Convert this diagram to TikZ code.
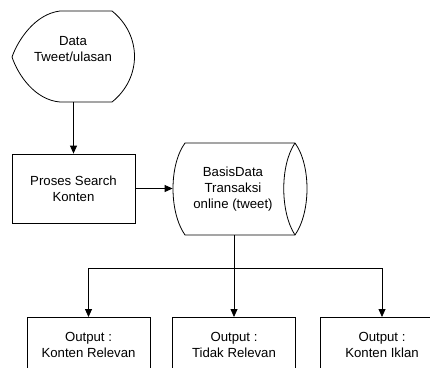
\documentclass[tikz,border=0pt]{standalone}
\usepackage{fontspec}
\setmainfont{Liberation Sans}
\usetikzlibrary{arrows.meta,calc}
\begin{document}
\begin{tikzpicture}[x=1pt,y=-1pt,
  line width=0.8pt,
  txt/.style={align=center,inner sep=0pt,font=\fontsize{13.2}{16}\selectfont},
  frame/.style={draw=none,inner sep=0pt,minimum width=#1},
  procbox/.style={draw,inner sep=0pt,minimum width=123pt,minimum height=69pt,align=center,font=\fontsize{13.2}{16}\selectfont},
  outbox/.style={draw,inner sep=0pt,minimum width=123pt,minimum height=58pt},
  arr/.style={-{Triangle[width=7pt,length=8pt]}}]
\useasboundingbox (0,0) rectangle (430,367);
\clip (0,0) rectangle (430,367);
% anchor frames
\node[frame=123pt,minimum height=91pt] (data) at (73.5,56.5) {};
\node[procbox] (proses) at (73.5,188.5) {Proses Search\\Konten};
\node[frame=134pt,minimum height=92pt] (cyl) at (240,189) {};
\node[outbox,anchor=north] (out1) at (88.5,317) {};
\node[outbox,anchor=north] (out2) at (234,317) {};
\node[outbox,anchor=north] (out3) at (382,317) {};
% display shape
\draw (60,11) -- (112,11) .. controls (142,35) and (142,78) .. (112,102) -- (60,102)
  .. controls (35,100) and (18,75) .. (12,57) .. controls (18,40) and (35,14) .. (60,11) -- cycle;
% cylinder (stored data)
\draw (185,143) -- (295,143) .. controls (311,165) and (311,212) .. (295,235) -- (185,235)
  .. controls (169,212) and (169,165) .. (185,143) -- cycle;
\draw (295,143) .. controls (280,165) and (280,212) .. (295,235);
% texts
\node[txt] (datatxt) at (73,49) {Data\\Tweet/ulasan};
\node[txt] (cyltxt) at (233,189) {BasisData\\Transaksi\\online (tweet)};
\node[txt] (o1txt) at (out1.north) [yshift=-28pt] {Output :\\Konten Relevan};
\node[txt] (o2txt) at (out2.north) [yshift=-28pt] {Output :\\Tidak Relevan};
\node[txt] (o3txt) at (out3.north) [yshift=-28pt] {Output :\\Konten Iklan};
% connectors
\coordinate (j) at (234,268);
\draw[arr] (data.south -| proses.north) -- (proses.north);
\draw[arr] (proses.east) -- (proses.east -| cyl.west);
\draw[arr] (cyl.south -| out2.north) -- (out2.north);
\draw[arr] (j) -| (out1.north);
\draw[arr] (j) -| (out3.north);
\end{tikzpicture}
\end{document}
